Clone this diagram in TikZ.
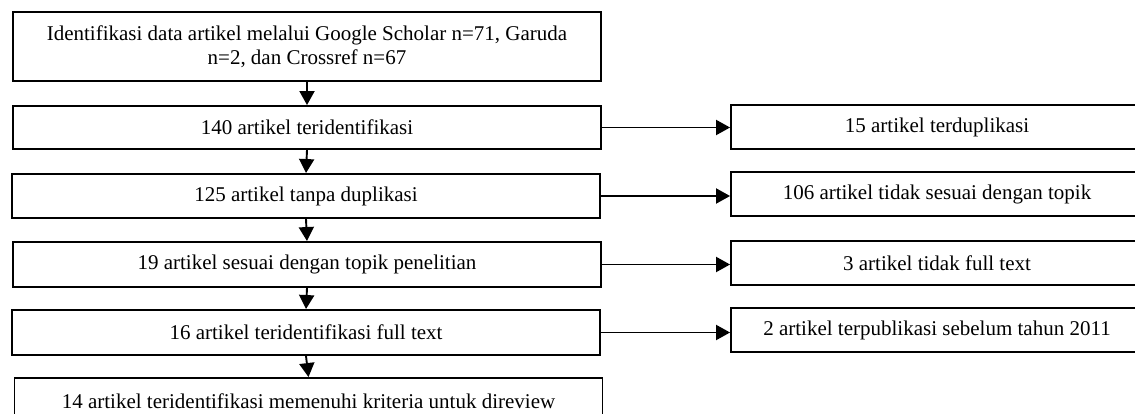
\documentclass[tikz,border=0pt]{standalone}
\usepackage{fontspec}
\setmainfont{Liberation Serif}
\usetikzlibrary{arrows.meta,calc}
\tikzset{
  stage/.style={draw=black, line width=1.9pt, inner sep=0pt, align=center,
    font=\fontsize{21}{24}\selectfont},
  leftbox/.style={stage, minimum width=588pt},
  rightbox/.style={stage, minimum width=412pt, minimum height=44pt},
  flow/.style={-{Triangle[width=15pt,length=14pt]}, line width=1.9pt},
}

\begin{document}
\begin{tikzpicture}[x=1pt,y=-1pt]
  \useasboundingbox (0,0) rectangle (1135,414);
  % main stages
  \node[leftbox, minimum height=69pt] (ident) at (307,46.5)
    {Identifikasi data artikel melalui Google Scholar n=71, Garuda\\n=2, dan Crossref n=67};
  \node[leftbox, minimum height=43pt] (found) at (307,127.5) {140 artikel teridentifikasi};
  \node[leftbox, minimum height=44pt] (nodup) at (306,196) {125 artikel tanpa duplikasi};
  \node[leftbox, minimum height=45pt] (topic) at (307,264.5) {19 artikel sesuai dengan topik penelitian};
  \node[leftbox, minimum height=45pt] (fulltext) at (306,332.5) {16 artikel teridentifikasi full text};
  \node[leftbox, minimum height=46pt] (final) at (308.5,401) {14 artikel teridentifikasi memenuhi kriteria untuk direview};
  % excluded
  \node[rightbox] (dup) at (937,127) {15 artikel terduplikasi};
  \node[rightbox] (offtopic) at (937,194) {106 artikel tidak sesuai dengan topik};
  \node[rightbox] (nofull) at (937,263) {3 artikel tidak full text};
  \node[rightbox] (old) at (937,330) {2 artikel terpublikasi sebelum tahun 2011};
  % arrows down
  \foreach \a/\b in {ident/found, found/nodup, nodup/topic, topic/fulltext, fulltext/final}
    \draw[flow] (\a.south) -- (\b.north);
  % arrows right
  \foreach \a/\b in {found/dup, nodup/offtopic, topic/nofull, fulltext/old}
    \draw[flow] (\a.east) -- (\a.east -| \b.west);
\end{tikzpicture}
\end{document}
